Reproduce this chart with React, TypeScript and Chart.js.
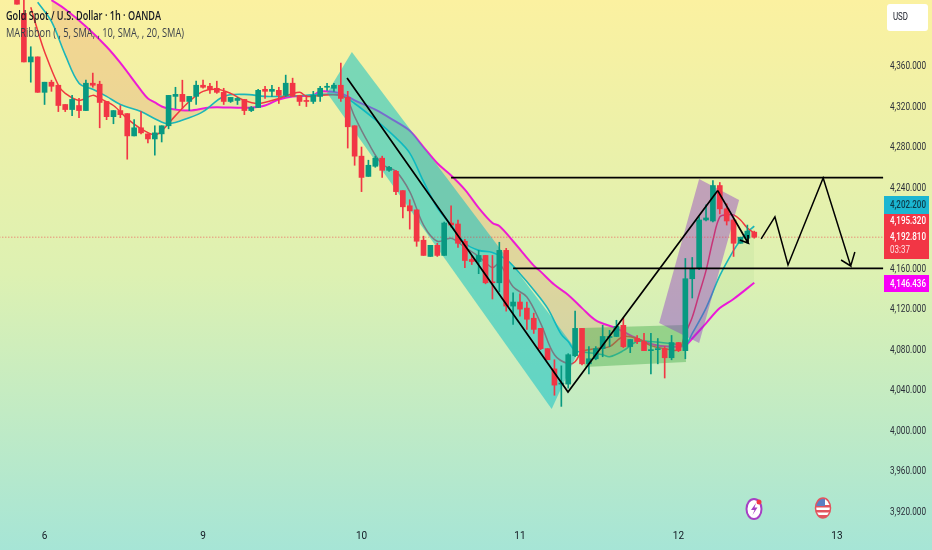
import React, { useEffect, useRef } from "react";
import { Chart, registerables } from "chart.js";

Chart.register(...registerables);

const opens = [4432,4412,4364,4369,4334,4344,4341,4322,4317,4321,4316,4343,4342,4325,4310,4316,4313,4291,4299,4293,4288,4293,4301,4330,4332,4325,4330,4341,4340,4338,4334,4325,4326,4327,4316,4319,4337,4335,4336,4331,4343,4331,4326,4325,4330,4339,4338,4341,4329,4301,4271,4251,4261,4269,4257,4256,4237,4222,4218,4188,4172,4183,4173,4205,4204,4187,4169,4167,4173,4147,4146,4178,4123,4127,4121,4111,4101,4081,4061,4046,4046,4074,4101,4066,4071,4081,4092,4093,4104,4083,4091,4088,4079,4080,4081,4072,4087,4079,4150,4160,4208,4207,4242,4219,4208,4185,4190,4196];
const closes = [4421,4364,4369,4334,4344,4340,4321,4317,4327,4316,4343,4341,4324,4310,4316,4312,4291,4299,4294,4288,4294,4301,4331,4332,4325,4330,4341,4339,4337,4334,4325,4329,4328,4316,4319,4336,4335,4337,4331,4343,4330,4325,4325,4331,4338,4340,4341,4328,4300,4271,4250,4262,4269,4257,4260,4236,4221,4217,4187,4173,4183,4173,4205,4203,4185,4168,4167,4173,4146,4146,4178,4123,4127,4120,4110,4100,4081,4070,4045,4047,4075,4101,4066,4071,4081,4093,4093,4103,4083,4090,4088,4079,4080,4081,4072,4087,4079,4150,4160,4208,4210,4242,4219,4207,4185,4191,4197,4191];
const highs = [4436,4425,4379,4369,4344,4346,4341,4322,4331,4328,4346,4353,4345,4325,4316,4321,4313,4307,4315,4293,4301,4301,4331,4339,4346,4330,4345,4346,4343,4345,4338,4329,4329,4327,4320,4337,4340,4341,4339,4351,4348,4331,4331,4335,4340,4343,4343,4363,4335,4301,4280,4267,4271,4271,4261,4257,4237,4228,4218,4192,4183,4185,4206,4222,4208,4189,4173,4178,4173,4173,4186,4180,4136,4135,4127,4116,4101,4081,4070,4064,4076,4118,4101,4083,4083,4104,4099,4109,4111,4090,4094,4096,4096,4091,4083,4094,4087,4170,4171,4211,4223,4247,4245,4224,4209,4191,4203,4197];
const lows = [4421,4364,4344,4334,4322,4335,4315,4315,4311,4309,4316,4339,4299,4307,4303,4309,4268,4291,4293,4284,4272,4285,4298,4318,4318,4316,4322,4338,4333,4333,4322,4324,4322,4312,4315,4319,4328,4330,4323,4330,4330,4321,4320,4323,4325,4336,4335,4325,4279,4262,4236,4251,4260,4250,4256,4233,4210,4199,4182,4173,4172,4172,4173,4201,4181,4161,4164,4155,4145,4130,4137,4118,4105,4113,4100,4096,4080,4070,4035,4024,4042,4073,4065,4056,4070,4073,4083,4093,4082,4077,4086,4079,4056,4066,4052,4070,4078,4071,4131,4159,4207,4206,4214,4203,4172,4185,4185,4190];

const sma20Bars = [5,7,10,13,15,18,19,20,21,22,25,28,31,34,36,38,40,43,44,47,49,52,55,57,59,61,63,65,67,69,70,72,75,76,78,80,82,84,87,90,93,96,97,98,100,102,104,107];
const sma20Values = [4425,4416,4399,4379,4363,4336,4328,4324,4320,4318,4316,4319,4319,4319,4321,4327,4330,4331,4335,4333,4326,4317,4305,4296,4280,4264,4252,4238,4220,4205,4202,4187,4163,4157,4144,4134,4121,4109,4101,4091,4084,4083,4084,4091,4106,4121,4130,4146];
const sma10Bars = [3,5,7,9,11,13,15,18,20,22,25,27,30,33,36,39,42,44,47,49,52,55,57,59,61,63,65,67,69,71,73,75,77,79,80,81,83,85,86,88,90,92,95,97,98,100,102,104,105,106,107];
const sma10Values = [4423,4404,4371,4343,4337,4330,4322,4315,4308,4303,4309,4315,4330,4332,4330,4330,4331,4332,4331,4323,4307,4289,4274,4246,4220,4203,4185,4178,4176,4169,4155,4139,4121,4095,4088,4079,4077,4075,4073,4079,4088,4088,4086,4085,4096,4121,4153,4178,4188,4196,4202];
const sma5Bars = [2,3,4,6,7,9,11,12,14,16,18,20,21,23,25,27,29,31,33,35,38,41,42,44,47,48,49,51,53,55,57,59,61,63,65,67,69,70,72,74,76,78,80,81,82,84,86,88,90,92,94,96,97,98,99,100,101,102,103,104,105,106,107];
const sma5Values = [4418,4395,4374,4341,4333,4326,4331,4328,4321,4308,4298,4292,4296,4311,4325,4335,4337,4333,4326,4323,4328,4334,4330,4331,4331,4326,4310,4284,4263,4256,4236,4203,4187,4190,4181,4172,4161,4165,4142,4132,4106,4075,4066,4068,4078,4081,4083,4093,4091,4084,4081,4080,4096,4112,4135,4158,4188,4211,4213,4213,4208,4200,4195];

const tickPrices = [4360,4320,4280,4240,4160,4120,4080,4040,4000,3960,3920];
const dayBars = [4,27,50,73,96,119];
const dayNames = ["6","9","10","11","12","13"];
const lastPrice = 4191;

const downChannelBars = [48.6,81.4,77.6,45];
const downChannelPrices = [4373.8,4077.7,4021.5,4333.4];
const rangeBoxBars = [82.1,96.7,97.1,82.4];
const rangeBoxPrices = [4101.4,4104.4,4067.9,4062.9];
const upChannelBars = [99,104.8,99,93.2];
const upChannelPrices = [4248.5,4227.8,4086.6,4106.4];

const resistanceLine = [{x:63,y:4249.8},{x:125.7,y:4249.8}];
const supportLine = [{x:72,y:4160.3},{x:125.7,y:4160.3}];
const swingPathBars = [47.9,79.97,101.7];
const swingPathPrices = [4348.2,4038.2,4237];
const pullbackBars = [101.7,106.1,104.9,106.1,106.1];
const pullbackPrices = [4237,4185.3,4188.3,4185.3,4193.2];
const forecastBars = [108,110,111.9,117,121,119.6,121,121.6];
const forecastPrices = [4189.3,4211,4163.6,4249.5,4162.6,4168.5,4162.6,4176.4];

const titleText = "Gold Spot / U.S. Dollar · 1h · OANDA";
const indicatorText = "MARibbon ( , 5, SMA, , 10, SMA, , 20, SMA)";
const sma10Label = "4,202.200";
const sma5Label = "4,195.320";
const lastLabel = "4,192.810";
const countdownLabel = "03:37";
const sma20Label = "4,146.436";
const currencyLabel = "USD";

const RED = "#F23645";
const GREEN = "#089981";
const FONT = 'Roboto, sans-serif';

const toPoints = (xs: number[], ys: number[]) => xs.map((x, i) => ({ x, y: ys[i] }));
const blackLine = (data: { x: number; y: number }[], width = 1.7) => ({
  type: "line" as const,
  data,
  borderColor: "#000000",
  borderWidth: width,
  pointRadius: 0,
  tension: 0,
  order: 0,
});

const polygon = (chart: any, xs: number[], ys: number[], color: string) => {
  const { ctx, scales } = chart;
  ctx.beginPath();
  xs.forEach((v, i) => {
    const px = scales.x.getPixelForValue(v);
    const py = scales.y.getPixelForValue(ys[i]);
    if (i === 0) ctx.moveTo(px, py);
    else ctx.lineTo(px, py);
  });
  ctx.closePath();
  ctx.fillStyle = color;
  ctx.fill();
};

const backdrop = {
  id: "backdrop",
  beforeDraw(chart: any) {
    const { ctx, width, height } = chart;
    const g = ctx.createLinearGradient(0, 0, 0, height);
    g.addColorStop(0, "#FBF1A0");
    g.addColorStop(0.5, "#DDF1B2");
    g.addColorStop(1, "#A6E5D6");
    ctx.fillStyle = g;
    ctx.fillRect(0, 0, width, height);
  },
};

const drawings = {
  id: "drawings",
  beforeDatasetDraw(chart: any, args: any) {
    if (args.meta.order !== 3) return;
    const { ctx, chartArea: a } = chart;
    ctx.save();
    ctx.beginPath();
    ctx.rect(a.left, a.top, a.right - a.left, a.bottom - a.top);
    ctx.clip();
    polygon(chart, downChannelBars, downChannelPrices, "rgba(0,190,200,0.50)");
    polygon(chart, rangeBoxBars, rangeBoxPrices, "rgba(76,175,80,0.45)");
    polygon(chart, upChannelBars, upChannelPrices, "rgba(140,50,200,0.42)");
    ctx.restore();
  },
};

const box = (ctx: CanvasRenderingContext2D, x: number, y: number, w: number, h: number, color: string) => {
  ctx.fillStyle = color;
  ctx.fillRect(x, y, w, h);
};

const overlays = {
  id: "overlays",
  afterDraw(chart: any) {
    const { ctx, scales } = chart;
    ctx.save();
    ctx.textBaseline = "middle";
    ctx.textAlign = "left";

    ctx.fillStyle = "#131722";
    ctx.font = '600 12px "Open Sans", sans-serif';
    ctx.fillText(titleText, 6, 17, 155);
    ctx.fillStyle = "#3a3f4a";
    ctx.font = '12px "Open Sans", sans-serif';
    ctx.fillText(indicatorText, 6, 34, 178);

    ctx.font = `11px ${FONT}`;
    ctx.fillStyle = "#2A2E39";
    tickPrices.forEach((p) => {
      const label = p.toLocaleString("en-US", { minimumFractionDigits: 3, maximumFractionDigits: 3 });
      ctx.fillText(label, 890, scales.y.getPixelForValue(p) + 0.5, 36);
    });

    ctx.fillStyle = "#FFFFFF";
    ctx.beginPath();
    ctx.roundRect(887, 4, 41, 27, 3);
    ctx.fill();
    ctx.fillStyle = "#131722";
    ctx.font = `11.5px ${FONT}`;
    ctx.fillText(currencyLabel, 893, 17, 15);

    box(ctx, 884, 196, 45, 18, "#1BB6D1");
    box(ctx, 884, 214, 45, 45, RED);
    box(ctx, 884, 275, 45, 17, "#F800F8");
    ctx.font = `500 11px ${FONT}`;
    ctx.fillStyle = "#0D3A48";
    ctx.fillText(sma10Label, 890, 205, 36);
    ctx.fillStyle = "#FFFFFF";
    ctx.fillText(sma5Label, 890, 221, 36);
    ctx.fillText(lastLabel, 890, 237, 36);
    ctx.font = `10.5px ${FONT}`;
    ctx.fillStyle = "#FFE0E3";
    ctx.fillText(countdownLabel, 890, 250, 20);
    ctx.font = `500 11px ${FONT}`;
    ctx.fillStyle = "#FFFFFF";
    ctx.fillText(sma20Label, 890, 284, 36);

    // lightning badge
    ctx.beginPath();
    ctx.ellipse(754, 509, 7.5, 10, 0, 0, Math.PI * 2);
    ctx.fillStyle = "#FFFFFF";
    ctx.fill();
    ctx.lineWidth = 2;
    ctx.strokeStyle = "#A63FC4";
    ctx.stroke();
    ctx.beginPath();
    ctx.moveTo(756, 503);
    ctx.lineTo(751, 510);
    ctx.lineTo(754.5, 510);
    ctx.lineTo(752.5, 515);
    ctx.lineTo(757.5, 507.5);
    ctx.lineTo(754.5, 507.5);
    ctx.closePath();
    ctx.fillStyle = "#A63FC4";
    ctx.fill();
    ctx.beginPath();
    ctx.arc(759, 502, 2.5, 0, Math.PI * 2);
    ctx.fillStyle = RED;
    ctx.fill();

    // flag badge
    ctx.save();
    ctx.beginPath();
    ctx.ellipse(823, 508, 7.5, 10, 0, 0, Math.PI * 2);
    ctx.clip();
    ctx.fillStyle = "#FFFFFF";
    ctx.fillRect(814, 497, 18, 22);
    ctx.fillStyle = "#E2545E";
    ctx.fillRect(814, 505, 18, 2.5);
    ctx.fillRect(814, 510, 18, 2.5);
    ctx.fillRect(814, 515, 18, 4);
    ctx.fillStyle = "#5B7FC4";
    ctx.fillRect(814, 497, 11, 9);
    ctx.restore();
    ctx.beginPath();
    ctx.ellipse(823, 508, 7.5, 10, 0, 0, Math.PI * 2);
    ctx.lineWidth = 1.5;
    ctx.strokeStyle = "#E2545E";
    ctx.stroke();
    ctx.restore();
  },
};

export default function App() {
  const ref = useRef<HTMLCanvasElement | null>(null);
  useEffect(() => {
    document.body.style.margin = "0";
    const bars = opens.map((_, i) => i);
    const colors = opens.map((o, i) => (closes[i] < o ? RED : GREEN));
    const chart = new Chart(ref.current as HTMLCanvasElement, {
      type: "bar",
      data: {
        datasets: [
          blackLine(resistanceLine),
          blackLine(supportLine),
          blackLine(toPoints(swingPathBars, swingPathPrices)),
          blackLine(toPoints(pullbackBars, pullbackPrices)),
          blackLine(toPoints(forecastBars, forecastPrices), 1.5),
          {
            type: "bar" as const,
            data: bars.map((i) => ({ x: i, y: [opens[i], closes[i]] })),
            backgroundColor: colors,
            barThickness: 5,
            grouped: false,
            order: 1,
          },
          {
            type: "bar" as const,
            data: bars.map((i) => ({ x: i, y: [lows[i], highs[i]] })),
            backgroundColor: colors,
            barThickness: 1,
            grouped: false,
            order: 2,
          },
          {
            type: "line" as const,
            data: toPoints([-3, 126], [lastPrice, lastPrice]),
            borderColor: "rgba(242,54,69,0.75)",
            borderWidth: 1,
            borderDash: [1, 2],
            pointRadius: 0,
            order: 3,
          },
          {
            type: "line" as const,
            data: toPoints(sma5Bars, sma5Values),
            borderColor: "#F0383F",
            borderWidth: 1.5,
            pointRadius: 0,
            tension: 0.35,
            order: 5,
          },
          {
            type: "line" as const,
            data: toPoints(sma10Bars, sma10Values),
            borderColor: "#1BB6B9",
            borderWidth: 1.6,
            pointRadius: 0,
            tension: 0.35,
            fill: { target: 10, above: "rgba(76,175,80,0.06)", below: "rgba(225,130,90,0.24)" },
            order: 6,
          },
          {
            type: "line" as const,
            data: toPoints(sma20Bars, sma20Values),
            borderColor: "#F013E0",
            borderWidth: 2,
            pointRadius: 0,
            tension: 0.35,
            order: 7,
          },
        ] as any,
      },
      options: {
        responsive: false,
        animation: false,
        devicePixelRatio: 1,
        layout: { padding: 0 },
        plugins: { legend: { display: false }, tooltip: { enabled: false }, title: { display: false } },
        scales: {
          x: {
            type: "linear",
            offset: false,
            min: -2.467,
            max: 125.83,
            grid: { display: false, drawTicks: false },
            border: { display: false },
            afterFit(s: any) {
              s.height = 25;
            },
            afterBuildTicks(s: any) {
              s.ticks = dayBars.map((value) => ({ value }));
            },
            ticks: {
              autoSkip: false,
              maxRotation: 0,
              padding: 5,
              color: "#131722",
              font: { family: FONT, size: 10 },
              callback: (v: any) => dayNames[dayBars.indexOf(Number(v))] ?? "",
            },
          },
          y: {
            type: "linear",
            position: "right",
            min: 3906.9,
            max: 4425.15,
            grid: { display: false, drawTicks: false },
            border: { display: false },
            afterFit(s: any) {
              s.width = 48;
            },
            ticks: { display: false },
          },
        },
      },
      plugins: [backdrop, drawings, overlays],
    } as any);
    return () => chart.destroy();
  }, []);
  return <canvas ref={ref} width={932} height={550} style={{ display: "block", width: 932, height: 550 }} />;
}
